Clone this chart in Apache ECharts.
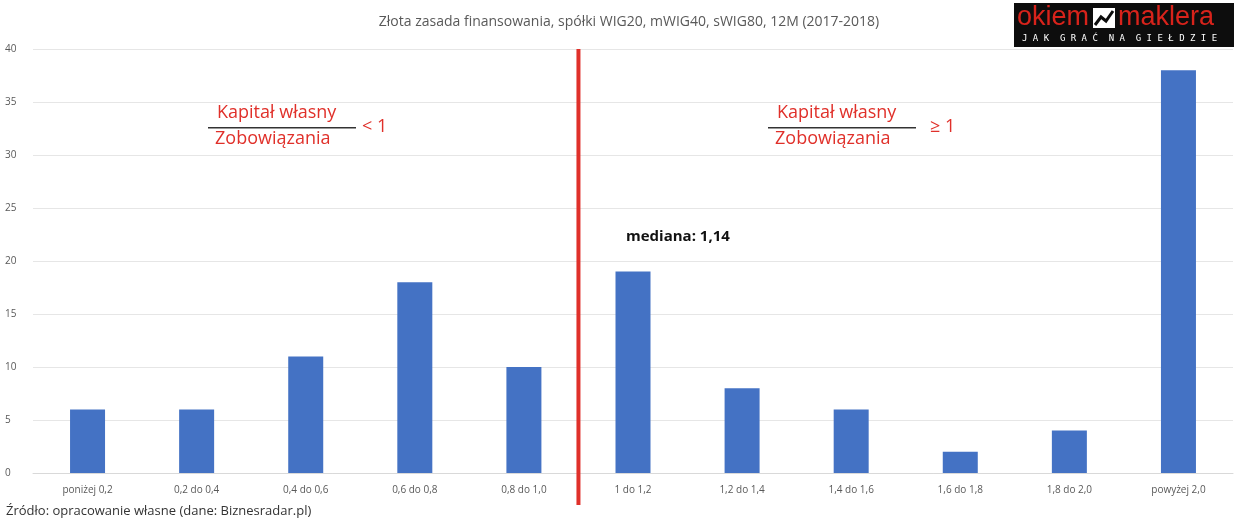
<!DOCTYPE html>
<html><head><meta charset="utf-8">
<script src="https://cdn.jsdelivr.net/npm/echarts@6/dist/echarts.min.js"></script>
<style>html,body{margin:0;background:#fff}#chart{width:1248px;height:526px}</style>
</head><body><div id="chart"></div>
<script>
const categories = ['poniżej 0,2', '0,2 do 0,4', '0,4 do 0,6', '0,6 do 0,8', '0,8 do 1,0', '1 do 1,2', '1,2 do 1,4', '1,4 do 1,6', '1,6 do 1,8', '1,8 do 2,0', 'powyżej 2,0'];
const counts = [6, 6, 11, 18, 10, 19, 8, 6, 2, 4, 38];

const red = '#e0302a';
const font = 'Open Sans';
let chart = echarts.init(document.getElementById('chart'));

chart.setOption({
  animation: false,
  title: { text: 'Złota zasada finansowania, spółki WIG20, mWIG40, sWIG80, 12M (2017-2018)', left: 624, top: 10, textAlign: 'center',
    textStyle: { fontFamily: font, fontWeight: 'normal', fontSize: 14, color: '#595959' } },
  grid: { left: 33, right: 15, top: 49, bottom: 53 },
  xAxis: { type: 'category', data: categories,
    axisLine: { lineStyle: { color: '#d9d9d9' } }, axisTick: { show: false },
    axisLabel: { color: '#595959', fontFamily: font, fontSize: 10, margin: 12 } },
  yAxis: { type: 'value', min: 0, max: 40, interval: 5,
    axisLabel: { color: '#595959', fontFamily: font, fontSize: 10, align: 'left', margin: 28 },
    splitLine: { lineStyle: { color: '#e6e6e6' } } },
  series: [{ type: 'bar', data: counts, barWidth: 35, itemStyle: { color: '#4472c4' } }],
  graphic: [
    { id: 'src', type: 'text', left: 6, top: 505, style: { text: 'Źródło: opracowanie własne (dane: Biznesradar.pl)', fill: '#333', font: '13px "Open Sans"' } },
    { id: 'med', type: 'text', left: 626, top: 229, style: { text: 'mediana: 1,14', fill: '#111', font: 'bold 15px "Open Sans"' } },
    { id: 'logo', type: 'group', left: 1014, top: 3, children: [
      { type: 'rect', shape: { x: 0, y: 0, width: 220, height: 44 }, style: { fill: '#0d0d0d' } },
      { type: 'text', x: 3, y: 1, style: { text: 'okiem', fill: '#d8231b', font: '27px "Liberation Sans"', verticalAlign: 'top' } },
      { type: 'rect', shape: { x: 79, y: 5, width: 22, height: 20 }, style: { fill: '#fff' } },
      { type: 'polyline', shape: { points: [[81, 22], [87, 14], [92, 18], [99, 8]] }, style: { stroke: '#0d0d0d', lineWidth: 3, fill: null } },
      { type: 'text', x: 104, y: 1, style: { text: 'maklera', fill: '#d8231b', font: '27px "Liberation Sans"', verticalAlign: 'top' } },
      { type: 'text', x: 8, y: 31, style: { text: 'J A K  G R A Ć  N A  G I E Ł D Z I E', fill: '#fff', font: '9px "DejaVu Sans Mono"', verticalAlign: 'top' } }
    ] },
    { id: 'a1', type: 'text', left: 217, top: 104, style: { text: 'Kapitał własny', fill: red, font: '500 18px "Open Sans"' } },
    { id: 'a2', type: 'rect', left: 208, top: 127, shape: { width: 148, height: 1.5 }, style: { fill: '#333' } },
    { id: 'a3', type: 'text', left: 215, top: 130, style: { text: 'Zobowiązania', fill: red, font: '500 18px "Open Sans"' } },
    { id: 'a4', type: 'text', left: 362, top: 118, style: { text: '< 1', fill: red, font: '500 18px "Open Sans"' } },
    { id: 'b1', type: 'text', left: 777, top: 104, style: { text: 'Kapitał własny', fill: red, font: '500 18px "Open Sans"' } },
    { id: 'b2', type: 'rect', left: 768, top: 127, shape: { width: 148, height: 1.5 }, style: { fill: '#333' } },
    { id: 'b3', type: 'text', left: 775, top: 130, style: { text: 'Zobowiązania', fill: red, font: '500 18px "Open Sans"' } },
    { id: 'b4', type: 'text', left: 930, top: 118, style: { text: '≥ 1', fill: red, font: '500 18px "Open Sans"' } }
  ]
});

// red divider between the 4th and 5th category
const p4 = chart.convertToPixel({ gridIndex: 0 }, [4, 40]);
const p5 = chart.convertToPixel({ gridIndex: 0 }, [5, 0]);
const xm = (p4[0] + p5[0]) / 2;
chart.setOption({ graphic: [{ id: 'divider', type: 'line', z: 100, shape: { x1: xm, y1: p4[1], x2: xm, y2: p5[1] + 32 }, style: { stroke: red, lineWidth: 4 } }] });
</script></body></html>
